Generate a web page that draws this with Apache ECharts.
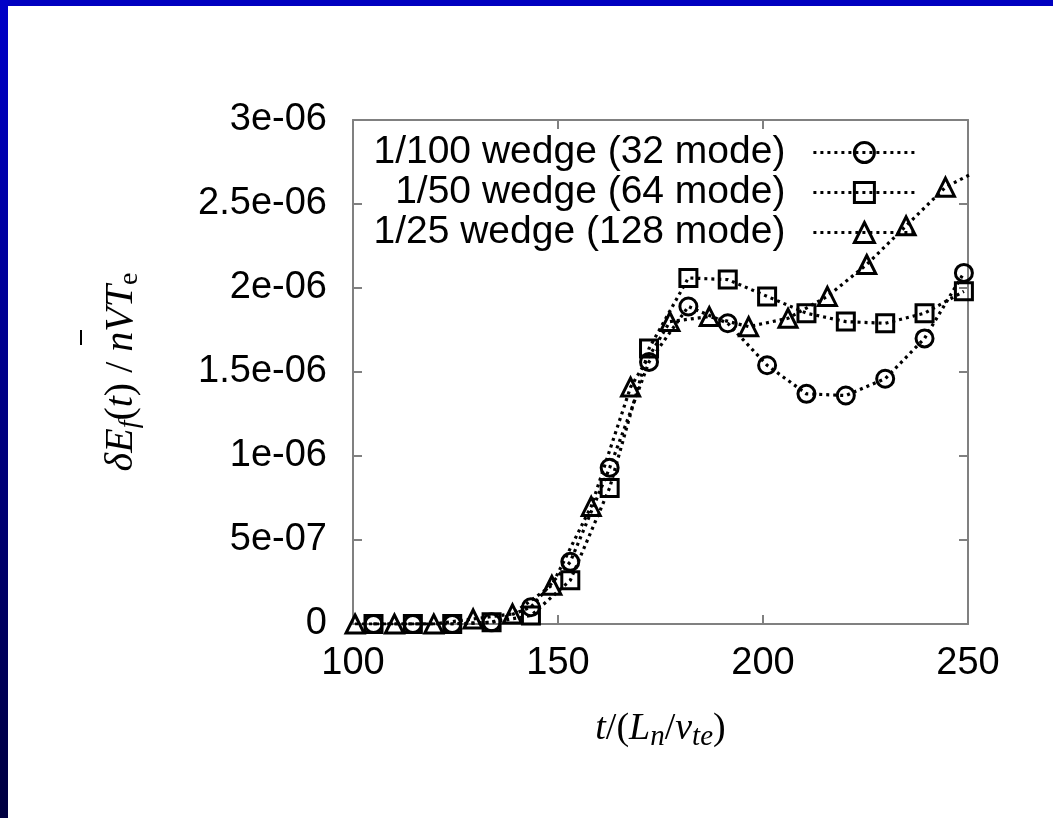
<!DOCTYPE html>
<html>
<head>
<meta charset="utf-8">
<title>delta E_f(t)</title>
<script src="https://cdn.jsdelivr.net/npm/echarts@6/dist/echarts.min.js"></script>
<style>
  html, body { margin: 0; padding: 0; background: #fff; }
  #wrap { position: relative; width: 1053px; height: 818px; background: #fff; overflow: hidden; }
  #topbar { position: absolute; left: 0; top: 0; width: 1053px; height: 6px; background: #0000c0; }
  #leftbar { position: absolute; left: 0; top: 0; width: 8px; height: 818px;
             background: linear-gradient(to bottom, #0000c8, #000040); }
  #chart { position: absolute; left: 0; top: 0; width: 1053px; height: 818px; }
</style>
</head>
<body>
<div id="wrap">
  <div id="topbar"></div>
  <div id="leftbar"></div>
  <div id="chart"></div>
</div>
<script>
// values, y in units of 1e-6
const names = ['1/100 wedge (32 mode)', '1/50 wedge (64 mode)', '1/25 wedge (128 mode)']

const tCircle = [105, 114.6, 124.2, 133.8, 143.4, 153, 162.6, 172.2, 181.8, 191.4, 201, 210.6, 220.2, 229.8, 239.4, 249]
const vCircle = [0, 0, 0, 0.01, 0.1, 0.37, 0.93, 1.56, 1.89, 1.79, 1.54, 1.37, 1.36, 1.46, 1.70, 2.09]

const tSquare = [105, 114.6, 124.2, 133.8, 143.4, 153, 162.6, 172.2, 181.8, 191.4, 201, 210.6, 220.2, 229.8, 239.4, 249]
const vSquare = [0, 0, 0, 0.01, 0.05, 0.26, 0.81, 1.64, 2.06, 2.05, 1.95, 1.85, 1.80, 1.79, 1.85, 1.98]

const tTriangle = [100.5, 110.1, 119.7, 129.3, 138.9, 148.5, 158.1, 167.7, 177.3, 186.9, 196.5, 206.1, 215.7, 225.3, 234.9, 244.5, 254.1]
const vTriangle = [0, 0, 0, 0.03, 0.06, 0.23, 0.70, 1.41, 1.80, 1.83, 1.77, 1.82, 1.95, 2.14, 2.37, 2.60, 2.72]

const xTicks = [100, 150, 200, 250]
const yTickLabels = ['0', '5e-07', '1e-06', '1.5e-06', '2e-06', '2.5e-06', '3e-06']

const sans = 'Liberation Sans, Arial, sans-serif'
const serif = 'Liberation Serif, Times New Roman, serif'
const frameColor = '#808080'

function pairs(ts, vs) {
  return ts.map((t, i) => [t, vs[i] * 1e-6])
}

let myChart = echarts.init(document.getElementById('chart'), null, { renderer: 'canvas' })

const markerStyle = {
  color: 'rgba(0,0,0,0)',
  borderColor: '#000',
  borderWidth: 3
}
const dotLine = { color: '#000', width: 3.2, type: [3, 4] }

function makeSeries(name, symbol, size, ts, vs) {
  return {
    name: name,
    type: 'line',
    data: pairs(ts, vs),
    symbol: symbol,
    symbolSize: size,
    showAllSymbol: true,
    clip: true,
    lineStyle: dotLine,
    itemStyle: markerStyle,
    emphasis: { disabled: true },
    animation: false
  }
}

const yTickIndex = v => Math.round(v / 5e-7)

let option = {
  animation: false,
  grid: { left: 353, right: 85, top: 120, bottom: 194 },
  legend: {
    orient: 'vertical',
    align: 'right',
    right: 136,
    top: 133,
    padding: 0,
    itemWidth: 102,
    itemHeight: 25,
    itemGap: 1,
    selectedMode: false,
    textStyle: { fontFamily: sans, fontSize: 39, color: '#000', padding: [0, 23, 0, 0] },
    lineStyle: { color: '#000', width: 3.2, type: [3, 4] },
    itemStyle: { borderWidth: 3 },
    data: names
  },
  xAxis: [
    {
      type: 'value',
      min: 100,
      max: 250,
      interval: 50,
      position: 'bottom',
      name: '{i|t}{r|/(}{i|L}{sub|n}{r|/}{i|v}{sub|te}{r|)}',
      nameLocation: 'middle',
      nameGap: 82,
      nameTextStyle: {
        color: '#000',
        rich: {
          i: { fontFamily: serif, fontStyle: 'italic', fontSize: 38, lineHeight: 46, color: '#000' },
          r: { fontFamily: serif, fontSize: 38, lineHeight: 46, color: '#000' },
          sub: { fontFamily: serif, fontStyle: 'italic', fontSize: 29, lineHeight: 32, verticalAlign: 'bottom', color: '#000' }
        }
      },
      axisLine: { onZero: false, lineStyle: { color: frameColor, width: 2 } },
      axisTick: { inside: true, length: 9, lineStyle: { color: frameColor, width: 2 } },
      axisLabel: {
        fontFamily: sans, fontSize: 38, color: '#000', margin: 21,
        formatter: v => String(xTicks[xTicks.indexOf(v)])
      },
      splitLine: { show: false }
    },
    {
      type: 'value',
      min: 100,
      max: 250,
      interval: 50,
      position: 'top',
      axisLine: { onZero: false, lineStyle: { color: frameColor, width: 2 } },
      axisTick: { inside: true, length: 9, lineStyle: { color: frameColor, width: 2 } },
      axisLabel: { show: false },
      splitLine: { show: false }
    }
  ],
  yAxis: [
    {
      type: 'value',
      min: 0,
      max: 3e-6,
      interval: 5e-7,
      position: 'left',
      name: '{d|δ}{i|E}{sub|f}{r|(}{i|t}{r|) / }{i|nVT}{sube|e}',
      nameLocation: 'middle',
      nameRotate: 90,
      nameGap: 209,
      nameTextStyle: {
        color: '#000',
        rich: {
          d: { fontFamily: serif, fontStyle: 'italic', fontSize: 40, lineHeight: 46, color: '#000' },
          i: { fontFamily: serif, fontStyle: 'italic', fontSize: 40, lineHeight: 46, color: '#000' },
          r: { fontFamily: serif, fontSize: 40, lineHeight: 46, color: '#000' },
          sub: { fontFamily: serif, fontStyle: 'italic', fontSize: 28, lineHeight: 32, verticalAlign: 'bottom', color: '#000' },
          sube: { fontFamily: serif, fontSize: 28, lineHeight: 32, verticalAlign: 'bottom', color: '#000' }
        }
      },
      axisLine: { onZero: false, lineStyle: { color: frameColor, width: 2 } },
      axisTick: { inside: true, length: 9, lineStyle: { color: frameColor, width: 2 } },
      axisLabel: {
        fontFamily: sans, fontSize: 38, color: '#000', margin: 26,
        formatter: v => yTickLabels[yTickIndex(v)]
      },
      splitLine: { show: false }
    },
    {
      type: 'value',
      min: 0,
      max: 3e-6,
      interval: 5e-7,
      position: 'right',
      axisLine: { onZero: false, lineStyle: { color: frameColor, width: 2 } },
      axisTick: { inside: true, length: 9, lineStyle: { color: frameColor, width: 2 } },
      axisLabel: { show: false },
      splitLine: { show: false }
    }
  ],
  // bar over n in the y title
  graphic: [
    { type: 'rect', shape: { x: 80, y: 330, width: 2, height: 15 }, style: { fill: '#000' } }
  ],
  series: [
    makeSeries(names[0], 'circle', 17, tCircle, vCircle),
    makeSeries(names[1], 'rect', 17, tSquare, vSquare),
    makeSeries(names[2], 'triangle', 18, tTriangle, vTriangle)
  ]
}

myChart.setOption(option)
window.addEventListener('resize', function () {
  myChart.resize()
})
</script>
</body>
</html>
